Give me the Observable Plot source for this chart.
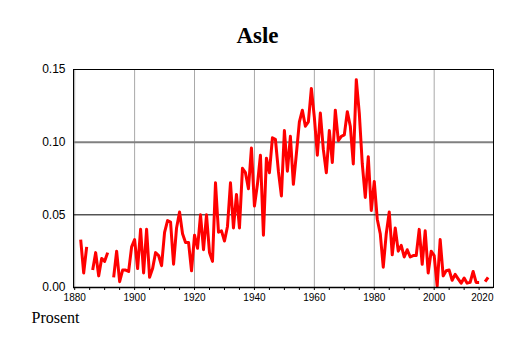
<!DOCTYPE html>
<html>
<head>
<meta charset="utf-8">
<script src="https://cdn.jsdelivr.net/npm/d3@7"></script>
<script src="https://cdn.jsdelivr.net/npm/@observablehq/plot@0.6"></script>
<style>
  html, body { margin: 0; padding: 0; background: #fff; }
</style>
</head>
<body>
<div id="chart"></div>
<script>
const title = "Asle";
const unitLabel = "Prosent";

const years = [
  1882, 1883, 1884, 1885, 1886, 1887, 1888, 1889, 1890, 1891, 1892, 1893, 1894, 1895, 1896, 1897, 1898, 1899,
  1900, 1901, 1902, 1903, 1904, 1905, 1906, 1907, 1908, 1909,
  1910, 1911, 1912, 1913, 1914, 1915, 1916, 1917, 1918, 1919,
  1920, 1921, 1922, 1923, 1924, 1925, 1926, 1927, 1928, 1929,
  1930, 1931, 1932, 1933, 1934, 1935, 1936, 1937, 1938, 1939,
  1940, 1941, 1942, 1943, 1944, 1945, 1946, 1947, 1948, 1949,
  1950, 1951, 1952, 1953, 1954, 1955, 1956, 1957, 1958, 1959,
  1960, 1961, 1962, 1963, 1964, 1965, 1966, 1967, 1968, 1969,
  1970, 1971, 1972, 1973, 1974, 1975, 1976, 1977, 1978, 1979,
  1980, 1981, 1982, 1983, 1984, 1985, 1986, 1987, 1988, 1989,
  1990, 1991, 1992, 1993, 1994, 1995, 1996, 1997, 1998, 1999,
  2000, 2001, 2002, 2003, 2004, 2005, 2006, 2007, 2008, 2009,
  2010, 2011, 2012, 2013, 2014, 2015, 2016, 2017, 2018
];

const values = [
  0.033, 0.010, 0.028, null, 0.012, 0.024, 0.008, 0.020, 0.018, 0.024, null, 0.007, 0.025, 0.004, 0.012, 0.012, 0.011, 0.028,
  0.033, 0.013, 0.040, 0.010, 0.040, 0.007, 0.013, 0.024, 0.022, 0.015,
  0.038, 0.046, 0.045, 0.016, 0.041, 0.052, 0.037, 0.031, 0.031, 0.0115,
  0.036, 0.027, 0.050, 0.026, 0.050, 0.024, 0.018, 0.072, 0.038, 0.039,
  0.032, 0.042, 0.072, 0.041, 0.064, 0.041, 0.082, 0.079, 0.068, 0.096,
  0.056, 0.071, 0.091, 0.036, 0.089, 0.079, 0.103, 0.102, 0.080, 0.063,
  0.108, 0.080, 0.104, 0.071, 0.092, 0.114, 0.122, 0.111, 0.114, 0.137,
  0.117, 0.091, 0.120, 0.095, 0.079, 0.108, 0.086, 0.122, 0.101, 0.104,
  0.105, 0.121, 0.111, 0.085, 0.143, 0.120, 0.085, 0.062, 0.090, 0.053,
  0.073, 0.047, 0.037, 0.014, 0.037, 0.052, 0.0225, 0.041, 0.025, 0.029,
  0.021, 0.026, 0.021, 0.022, 0.022, 0.040, 0.016, 0.039, 0.010, 0.025,
  0.022, 0.001, 0.033, 0.008, 0.0115, 0.012, 0.005, 0.009, 0.006, 0.003,
  0.0065, 0.003, 0.0035, 0.011, 0.0035, 0.0035, null, 0.004, 0.007
];

const xLabelTicks = [1880, 1900, 1920, 1940, 1960, 1980, 2000];
const xLastLabel = [2020];
const xGridTicks = [1880, 1900, 1920, 1940, 1960, 1980, 2000];
const xMinorTicks = [1880, 1885, 1890, 1895, 1900, 1905, 1910, 1915, 1920, 1925, 1930, 1935, 1940, 1945, 1950, 1955, 1960, 1965, 1970, 1975, 1980, 1985, 1990, 1995, 2000, 2005, 2010, 2015];
const yTicks = [0, 0.05, 0.10, 0.15];
const yThinGrid = [0.05, 0.15];
const yThickGrid = [0.10];

const data = years.map((year, i) => ({year, value: values[i]}));

const serif = "'Liberation Serif', 'Times New Roman', serif";

const chart = Plot.plot({
  width: 514,
  height: 343,
  marginTop: 69,
  marginBottom: 56,
  marginLeft: 73,
  marginRight: 21,
  style: {fontFamily: "'Liberation Sans', Arial, sans-serif", background: "#fff", color: "#000"},
  x: {domain: [1879.6, 2019.8], axis: null},
  y: {domain: [0, 0.15], axis: null},
  marks: [
    Plot.ruleX(xGridTicks, {x: d => d, stroke: "#a8a8a8", strokeWidth: 1}),
    Plot.ruleY(yThinGrid, {y: d => d, stroke: "#000", strokeWidth: 1}),
    Plot.ruleY(yThickGrid, {y: d => d, stroke: "#808080", strokeWidth: 2}),
    Plot.line(data, {x: "year", y: "value", stroke: "#ff0000", strokeWidth: 3, strokeLinejoin: "round", strokeLinecap: "butt"}),
    Plot.frame({stroke: "#000", strokeWidth: 1}),
    Plot.ruleY([0], {stroke: "#000", strokeWidth: 1.5}),
    Plot.axisX(xMinorTicks, {tickSize: 3, tickFormat: () => "", stroke: "#000", label: null}),
    Plot.axisX(xLabelTicks, {tickSize: 0, tickPadding: 6, fontSize: 10, tickFormat: d => String(d), label: null}),
    Plot.text(xLastLabel, {frameAnchor: "bottom-right", text: d => String(d), textAnchor: "end", lineAnchor: "top", dy: 6, fontSize: 10}),
    Plot.axisY(yTicks, {tickSize: 0, tickPadding: 8, fontSize: 12, tickFormat: d => d.toFixed(2), label: null}),
    Plot.text([title], {frameAnchor: "top", text: d => d, dx: -26, dy: -27, lineAnchor: "bottom", fontSize: 23, fontWeight: "bold", fontFamily: serif}),
    Plot.text([unitLabel], {frameAnchor: "bottom-left", text: d => d, dx: -42, dy: 35, textAnchor: "start", lineAnchor: "bottom", fontSize: 16, fontFamily: serif})
  ]
});

document.getElementById("chart").appendChild(chart);
</script>
</body>
</html>
